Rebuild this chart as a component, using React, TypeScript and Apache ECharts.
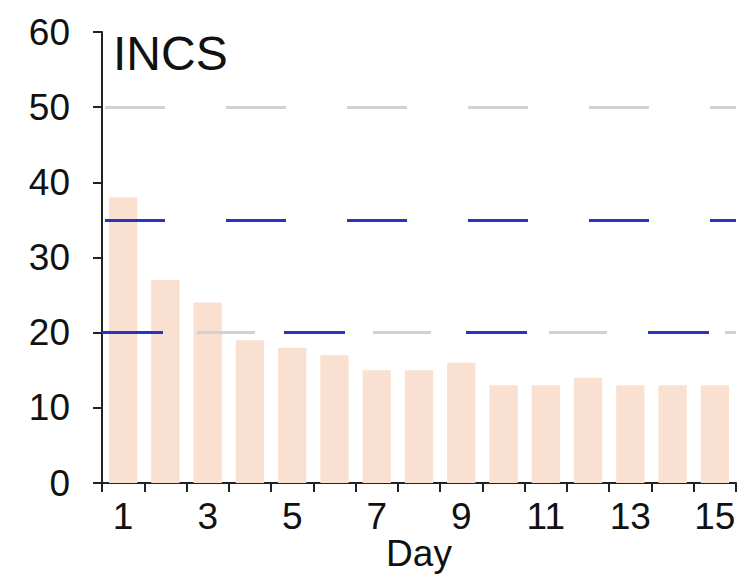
import React, { useEffect, useRef } from "react";
import * as echarts from "echarts";

const days = ["1", "2", "3", "4", "5", "6", "7", "8", "9", "10", "11", "12", "13", "14", "15"];
const incsValues = [38, 27, 24, 19, 18, 17, 15, 15, 16, 13, 13, 14, 13, 13, 13];
const grayLevels = [50];
const blueLevels = [35, 20];
const grayLowLevel = [20];
const yTicks = [0, 10, 20, 30, 40, 50, 60];

const FONT = "'Liberation Sans', Arial, sans-serif";

export default function App() {
  const ref = useRef<HTMLDivElement>(null);
  useEffect(() => {
    if (!ref.current) return;
    const chart = echarts.init(ref.current, undefined, { renderer: "svg" });
    const markLineData: any[] = [];
    grayLevels.forEach((v) =>
      markLineData.push({
        yAxis: v,
        lineStyle: { color: "#d2d2d2", width: 3, type: [60, 61], dashOffset: -3 },
      })
    );
    blueLevels.forEach((v, i) =>
      markLineData.push({
        yAxis: v,
        lineStyle:
          i === 0
            ? { color: "#2a32c4", width: 3, type: [60, 61], dashOffset: -3 }
            : { color: "#2a32c4", width: 3, type: [61, 121], dashOffset: 0 },
      })
    );
    grayLowLevel.forEach((v) =>
      markLineData.push({
        yAxis: v,
        lineStyle: { color: "#d2d2d2", width: 3, type: [58, 118], dashOffset: 81 },
      })
    );
    chart.setOption({
      animation: false,
      textStyle: { fontFamily: FONT },
      title: {
        text: "INCS",
        left: 108,
        top: 24,
        textStyle: { fontSize: 48, fontWeight: "normal", color: "#111", fontFamily: FONT },
      },
      grid: {
        left: 102,
        top: 32,
        right: 2,
        bottom: 93,
        containLabel: false,
        outerBoundsMode: "none",
      },
      xAxis: {
        type: "category",
        data: days,
        name: "Day",
        nameLocation: "middle",
        nameGap: 52,
        nameMoveOverlap: false,
        nameTextStyle: { fontSize: 37, color: "#111", fontFamily: FONT },
        axisLine: { lineStyle: { color: "#222", width: 2 } },
        axisTick: { show: true, interval: 0, length: 9, lineStyle: { color: "#222", width: 2 } },
        axisLabel: { interval: 1, fontSize: 37, color: "#111", margin: 15, fontFamily: FONT },
        splitLine: { show: false },
      },
      yAxis: {
        type: "value",
        min: yTicks[0],
        max: yTicks[yTicks.length - 1],
        interval: 10,
        axisLine: { show: true, lineStyle: { color: "#222", width: 2 } },
        axisTick: { show: true, length: 9, lineStyle: { color: "#222", width: 2 } },
        axisLabel: { fontSize: 37, color: "#111", margin: 32, fontFamily: FONT },
        splitLine: { show: false },
      },
      series: [
        {
          type: "bar",
          data: incsValues,
          barCategoryGap: "33%",
          itemStyle: { color: "#fae0d1" },
          markLine: {
            silent: true,
            symbol: "none",
            label: { show: false },
            data: markLineData,
          },
        },
      ],
    });
    return () => chart.dispose();
  }, []);
  return (
    <div
      ref={ref}
      style={{ position: "fixed", left: 0, top: 0, width: 738, height: 576, background: "#fff" }}
    />
  );
}
